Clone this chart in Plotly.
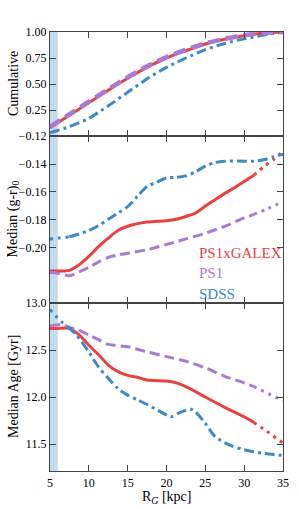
import plotly.graph_objects as go
from plotly.subplots import make_subplots

# ---------------- data ----------------
R_cum = [5, 7.5, 10, 12.5, 15, 17.5, 20, 22.5, 25, 27.5, 30, 32.5, 35]
cum_galex = [0.08, 0.20, 0.32, 0.44, 0.555, 0.66, 0.75, 0.82, 0.885, 0.93, 0.965, 0.99, 1.0]
cum_ps1 = [0.09, 0.21, 0.33, 0.45, 0.565, 0.67, 0.76, 0.83, 0.89, 0.935, 0.97, 0.99, 1.0]
cum_sdss = [0.03, 0.09, 0.17, 0.29, 0.42, 0.55, 0.66, 0.75, 0.83, 0.89, 0.935, 0.97, 1.0]

R_gr_galex = [5, 6, 7.5, 8.75, 10, 11.25, 12.5, 13.75, 15, 17.5, 20, 21.25, 22.5, 23.75,
              25, 26.25, 27.5, 28.75, 30, 31.25, 32.5, 33.75, 35]
gr_galex = [-0.2165, -0.2165, -0.216, -0.212, -0.206, -0.199, -0.193, -0.1875, -0.1845, -0.1815,
            -0.1805, -0.1795, -0.1775, -0.175, -0.170, -0.1655, -0.161, -0.157, -0.1525, -0.148,
            -0.142, -0.137, -0.131]

R_gr_ps1 = [5, 6, 7.5, 8.75, 10, 11.25, 12.5, 13.75, 15, 17.5, 20, 22.5, 25, 27.5, 30, 31.25, 33, 35]
gr_ps1 = [-0.2175, -0.218, -0.2198, -0.217, -0.2138, -0.210, -0.2067, -0.205, -0.2038, -0.2012,
          -0.1975, -0.1935, -0.1895, -0.1845, -0.1785, -0.176, -0.172, -0.167]

R_gr_sdss = [5, 6, 7.5, 8.75, 10, 11.25, 12.5, 13.75, 15, 16.25, 17.5, 18.75, 20, 21.25, 22.5,
             23.75, 25, 26.25, 27.5, 30, 31.25, 32.5, 33.75, 35]
gr_sdss = [-0.1936, -0.193, -0.192, -0.190, -0.1875, -0.184, -0.1795, -0.175, -0.1705, -0.163,
           -0.156, -0.153, -0.150, -0.1495, -0.1485, -0.1455, -0.1415, -0.139, -0.138, -0.138,
           -0.138, -0.137, -0.135, -0.133]

R_age_galex = [5, 6, 7.5, 8.75, 10, 11.25, 12.5, 13.75, 15, 16.25, 17.5, 20, 21.25, 22.5, 25,
               27.5, 30, 31.25, 32.5, 35]
age_galex = [12.73, 12.73, 12.73, 12.66, 12.55, 12.45, 12.34, 12.27, 12.23, 12.21, 12.18, 12.17,
             12.15, 12.11, 12.00, 11.89, 11.79, 11.73, 11.66, 11.51]

R_age_ps1 = [5, 6.5, 7.5, 8.75, 10, 11.25, 12.5, 15, 17.5, 20, 22.5, 25, 27.5, 30, 31.25, 35]
age_ps1 = [12.755, 12.77, 12.74, 12.71, 12.66, 12.61, 12.56, 12.535, 12.48, 12.43, 12.38, 12.31,
           12.22, 12.15, 12.11, 11.96]

R_age_sdss = [5, 6, 6.5, 7.25, 8.4, 10, 11.25, 12.5, 13.75, 15, 16.25, 17.5, 20, 20.6, 21.6, 23.1,
              23.75, 25, 26.25, 28.1, 30, 32.5, 35]
age_sdss = [12.93, 12.84, 12.80, 12.75, 12.66, 12.48, 12.32, 12.20, 12.09, 12.02, 11.97, 11.92,
            11.81, 11.79, 11.83, 11.87, 11.84, 11.72, 11.58, 11.49, 11.44, 11.40, 11.38]

labels = ["PS1xGALEX", "PS1", "SDSS"]
x_ticks = [5, 10, 15, 20, 25, 30, 35]
cum_ticks = [0.25, 0.5, 0.75, 1.0]
gr_ticks = [-0.20, -0.18, -0.16, -0.14, -0.12]
age_ticks = [11.5, 12.0, 12.5, 13.0]

# ---------------- style ----------------
RED = "#e8413f"
PURPLE = "#a97ad6"
BLUE = "#3a8bc6"
FONT = "Liberation Serif, Times New Roman, serif"
DOT = "3px,5px"
DASH = "10px,5px"
DASHDOT = "10px,4px,3px,4px"

fig = make_subplots(rows=3, cols=1, shared_xaxes=True, vertical_spacing=0,
                    row_heights=[104, 167, 168])


def seg(xs, ys, lo, hi):
    px, py = [], []
    for a, b in zip(xs, ys):
        if lo <= a <= hi:
            px.append(a)
            py.append(b)
    return px, py


def add(xs, ys, color, width, dash, row, lo=-1e9, hi=1e9):
    px, py = seg(xs, ys, lo, hi)
    fig.add_trace(go.Scatter(x=px, y=py, mode="lines", showlegend=False,
                             line=dict(color=color, width=width, dash=dash,
                                       shape="spline", smoothing=0.8)),
                  row=row, col=1)


# top: cumulative
add(R_cum, cum_sdss, BLUE, 3, DASHDOT, 1)
add(R_cum, cum_galex, RED, 3, "solid", 1)
add(R_cum, cum_ps1, PURPLE, 4.5, "12px,6px", 1)

# middle: colour
add(R_gr_galex, gr_galex, RED, 3, "solid", 2, hi=31.25)
add(R_gr_galex, gr_galex, RED, 3, DOT, 2, lo=31.25)
add(R_gr_ps1, gr_ps1, PURPLE, 3, DASH, 2, hi=31.25)
add(R_gr_ps1, gr_ps1, PURPLE, 3, DOT, 2, lo=31.25)
add(R_gr_sdss, gr_sdss, BLUE, 3, DOT, 2, hi=7.5)
add(R_gr_sdss, gr_sdss, BLUE, 3, DASHDOT, 2, lo=7.5)

# bottom: age
add(R_age_galex, age_galex, RED, 3, "solid", 3, hi=31.25)
add(R_age_galex, age_galex, RED, 3, DOT, 3, lo=31.25)
add(R_age_ps1, age_ps1, PURPLE, 3, DASH, 3, hi=31.25)
add(R_age_ps1, age_ps1, PURPLE, 3, DOT, 3, lo=31.25)
add(R_age_sdss, age_sdss, BLUE, 3, DOT, 3, hi=7.25)
add(R_age_sdss, age_sdss, BLUE, 3, DASHDOT, 3, lo=7.25)

for r in (1, 2, 3):
    fig.add_vrect(x0=5, x1=6, fillcolor="rgba(31,119,180,0.26)", line_width=0,
                  layer="below", row=r, col=1)

axis_common = dict(showline=True, linecolor="#444", linewidth=1.4, mirror="ticks",
                   ticks="inside", ticklen=6, tickwidth=1.2, tickcolor="#444",
                   showgrid=False, zeroline=False,
                   tickfont=dict(family=FONT, size=12, color="black"))

for r in (1, 2, 3):
    fig.update_xaxes(range=[5, 35], tickvals=x_ticks, showticklabels=(r == 3),
                     row=r, col=1, **axis_common)

fig.update_yaxes(range=[0, 1], tickvals=cum_ticks, tickformat=".2f", row=1, col=1, **axis_common)
fig.update_yaxes(range=[-0.2393, -0.12], tickvals=gr_ticks, tickformat=".2f", row=2, col=1,
                 **axis_common)
fig.update_yaxes(range=[11.213, 13.0], tickvals=age_ticks, tickformat=".1f", row=3, col=1,
                 **axis_common)

ann = []
d1 = fig.layout.yaxis.domain
d2 = fig.layout.yaxis2.domain
d3 = fig.layout.yaxis3.domain
for text, dom in (("Cumulative", d1), ("Median (g-r)<sub>0</sub>", d2),
                  ("Median Age [Gyr]", d3)):
    ann.append(dict(text=text, xref="paper", yref="paper", x=0, xshift=-37,
                    y=(dom[0] + dom[1]) / 2, textangle=-90, showarrow=False,
                    xanchor="center", yanchor="middle",
                    font=dict(family=FONT, size=14, color="black")))
ann.append(dict(text="R<sub><i>G</i></sub> [kpc]", xref="paper", yref="paper", x=0.5, y=0,
                yshift=-26, showarrow=False, xanchor="center", yanchor="middle",
                font=dict(family=FONT, size=14, color="black")))

# legend-like coloured labels
for i, (lab, col) in enumerate(zip(labels, [RED, PURPLE, BLUE])):
    ann.append(dict(text=lab, xref="x2", yref="y2", x=23.9, y=-0.2033 - i * 0.0148,
                    showarrow=False, xanchor="left", yanchor="middle",
                    font=dict(family=FONT, size=15, color=col)))

fig.update_layout(width=299, height=509, margin=dict(l=50, r=10, t=32, b=38),
                  plot_bgcolor="white", paper_bgcolor="white", annotations=ann,
                  showlegend=False)

fig.write_html("out.html", config={"displayModeBar": False},
               post_script="document.body.style.margin='0px';"
                           "document.body.style.overflow='hidden';")
